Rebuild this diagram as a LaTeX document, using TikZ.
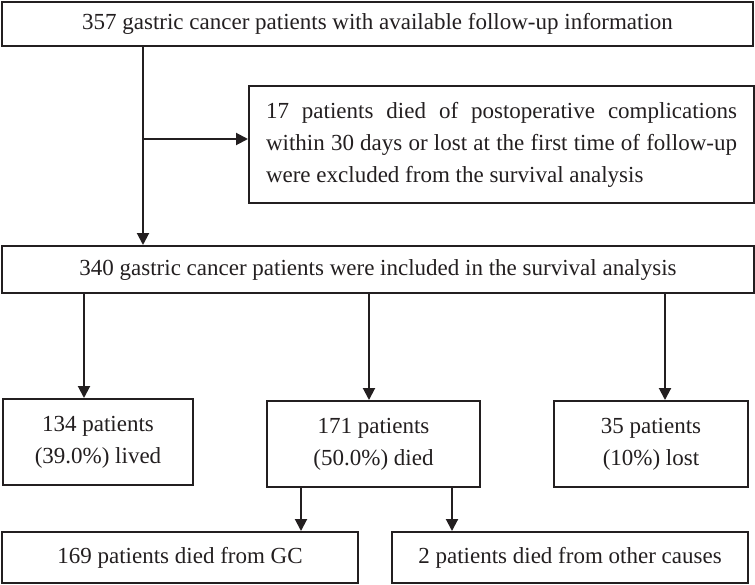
\documentclass[tikz,border=0pt]{standalone}
\usepackage{fontspec}
\setmainfont{Liberation Serif}
\usetikzlibrary{arrows.meta}
\definecolor{ink}{HTML}{231F20}
\begin{document}
\begin{tikzpicture}[x=1pt,y=-1pt,
  box/.style={draw=ink, line width=2pt, text=ink, inner sep=0pt,
    font=\fontsize{23}{32}\selectfont, align=center},
  arr/.style={draw=ink, line width=2pt, -{Triangle[length=12pt,width=12pt]}}]
\useasboundingbox (0,0) rectangle (755,584);
\fill[white] (0,0) rectangle (755,584);
\node[box, minimum width=751pt, minimum height=44pt] (top) at (377.5,24)
  {357 gastric cancer patients with available follow-up information};
\node[box, minimum width=505pt, minimum height=117pt, text width=471pt, align=justify] (excl) at (501.5,144.5)
  {17 patients died of postoperative complications\linebreak within 30 days or lost at the first time of follow-up\linebreak were excluded from the survival analysis};
\node[box, minimum width=752pt, minimum height=47pt] (mid) at (378,269.5)
  {340 gastric cancer patients were included in the survival analysis};
\node[box, minimum width=190pt, minimum height=86pt] (lived) at (98,442)
  {134 patients\\(39.0\%) lived};
\node[box, minimum width=213pt, minimum height=86pt] (died) at (373.5,444)
  {171 patients\\(50.0\%) died};
\node[box, minimum width=194pt, minimum height=86pt] (lost) at (651,444)
  {35 patients\\(10\%) lost};
\node[box, minimum width=356pt, minimum height=51pt] (gc) at (180,557.5)
  {169 patients died from GC};
\node[box, minimum width=356pt, minimum height=51pt] (other) at (570,557.5)
  {2 patients died from other causes};
\coordinate (j) at (143,139);
\coordinate (xa) at (84,0);
\coordinate (xb) at (369,0);
\coordinate (xc) at (665,0);
\coordinate (xd) at (301,0);
\coordinate (xe) at (452,0);
\draw[arr] (top.south -| j) -- (mid.north -| j);
\draw[arr] (j) -- (excl.west |- j);
\draw[arr] (mid.south -| xa) -- (lived.north -| xa);
\draw[arr] (mid.south -| xb) -- (died.north -| xb);
\draw[arr] (mid.south -| xc) -- (lost.north -| xc);
\draw[arr] (died.south -| xd) -- (gc.north -| xd);
\draw[arr] (died.south -| xe) -- (other.north -| xe);
\end{tikzpicture}
\end{document}
